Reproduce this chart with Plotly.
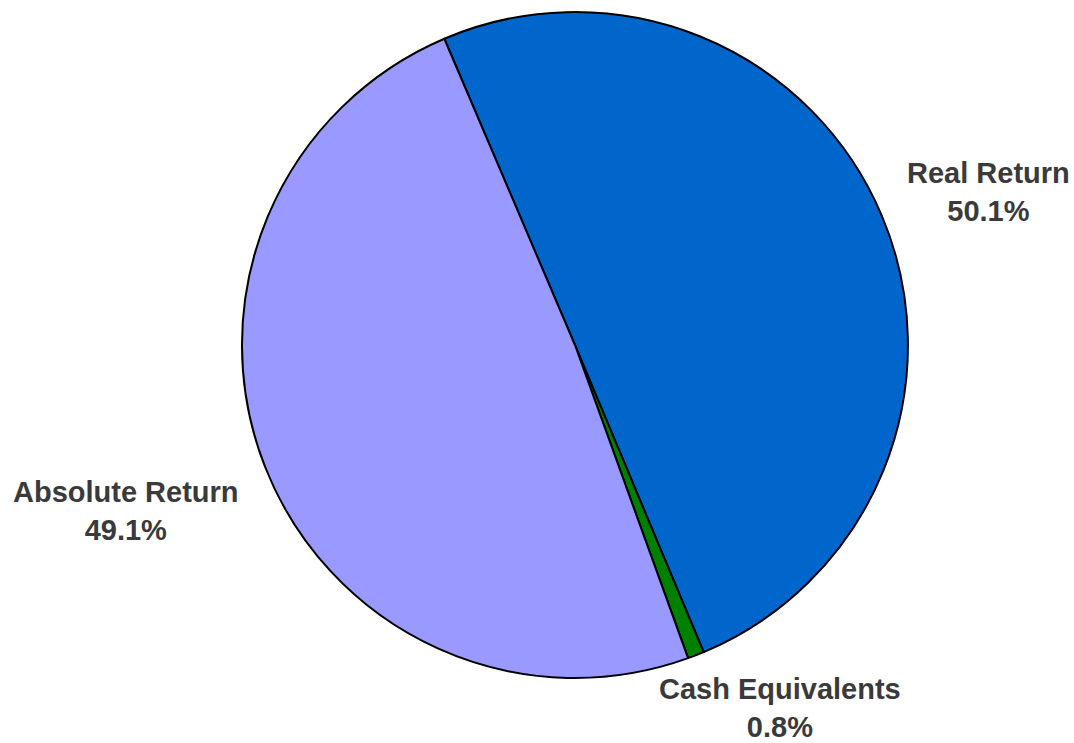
import plotly.graph_objects as go

# Asset allocation
labels = ["Real Return", "Cash Equivalents", "Absolute Return"]
values = [50.1, 0.8, 49.1]
colors = ["#0066CC", "#008000", "#9999FF"]

# label anchor positions (paper coordinates)
label_x = [0.9205, 0.7258, 0.1170]
label_y = [0.742, 0.0465, 0.312]

fig = go.Figure(
    go.Pie(
        labels=labels,
        values=values,
        sort=False,
        direction="clockwise",
        rotation=-23.1,
        marker=dict(colors=colors, line=dict(color="#000000", width=2)),
        textinfo="none",
        hoverinfo="label+percent",
        domain=dict(x=[0.2253, 0.8454], y=[0.0875, 0.9838]),
        showlegend=False,
    )
)

for lab, val, x, y in zip(labels, values, label_x, label_y):
    fig.add_annotation(
        x=x, y=y, xref="paper", yref="paper",
        text=f"<b>{lab}<br>{val:.1f}%</b>",
        showarrow=False,
        xanchor="center", yanchor="middle",
        font=dict(family="Liberation Sans, Arial, sans-serif", size=29, color="#3a3a3a"),
    )

fig.update_layout(
    width=1074, height=743,
    margin=dict(l=0, r=0, t=0, b=0),
    paper_bgcolor="white",
    plot_bgcolor="white",
)

fig.write_html("out.html")
